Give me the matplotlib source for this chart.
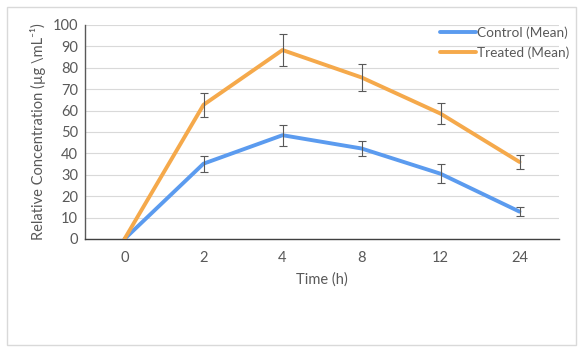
import matplotlib
matplotlib.use("Agg")
import matplotlib.pyplot as plt
from matplotlib.patches import Rectangle

time_labels = ["0", "2", "4", "8", "12", "24"]
control_mean = [0, 35.2, 48.5, 42.3, 30.5, 12.8]
control_err = [0, 3.8, 5.0, 3.5, 4.5, 2.2]
treated_mean = [0, 62.7, 88.3, 75.5, 58.6, 36.0]
treated_err = [0, 5.7, 7.3, 6.5, 5.0, 3.3]

plt.rcParams['font.family'] = ['Lato', 'DejaVu Sans']

fig = plt.figure(figsize=(5.86, 3.53), dpi=100)
fig.patches.append(Rectangle((7/586, 1-345/353), (576-7)/586, (345-7)/353,
                             transform=fig.transFigure, fill=False,
                             edgecolor="#D9D9D9", linewidth=1.0))
ax = fig.add_axes([85/586, 1-239/353, (559-85)/586, (239-25)/353])

x = list(range(len(time_labels)))
blue = "#5B9BEF"
orange = "#F5A94B"
ax.plot(x, control_mean, color=blue, lw=2.8, label="Control (Mean)", zorder=3, solid_capstyle='round')
ax.plot(x, treated_mean, color=orange, lw=2.8, label="Treated (Mean)", zorder=3, solid_capstyle='round')
ax.errorbar(x[1:], control_mean[1:], yerr=control_err[1:], fmt='none', ecolor="#595959",
            elinewidth=0.8, capsize=3, capthick=0.8, zorder=4)
ax.errorbar(x[1:], treated_mean[1:], yerr=treated_err[1:], fmt='none', ecolor="#595959",
            elinewidth=0.8, capsize=3, capthick=0.8, zorder=4)

ax.set_xlim(-0.5, 5.5)
ax.set_ylim(0, 100)
ax.set_yticks(range(0, 101, 10))
ax.set_xticks(x)
ax.set_xticklabels(time_labels)
ax.grid(axis='y', color="#D9D9D9", lw=0.8)
ax.set_axisbelow(True)
for s in ["top", "right"]:
    ax.spines[s].set_visible(False)
ax.spines["left"].set_color("#595959")
ax.spines["bottom"].set_color("#404040")
ax.spines["left"].set_linewidth(1.0)
ax.spines["bottom"].set_linewidth(1.0)
ax.tick_params(axis='both', length=0, labelsize=10.5, labelcolor="#595959")
ax.tick_params(axis='x', pad=9)
ax.tick_params(axis='y', pad=5)
ax.set_xlabel("Time (h)", fontsize=10.5, color="#595959", labelpad=5)
ax.set_ylabel("Relative Concentration (µg \\mL⁻¹)", fontsize=10.5, color="#595959", labelpad=5)

leg = ax.legend(loc="upper left", bbox_to_anchor=(435/586, 1-21/353), bbox_transform=fig.transFigure,
                frameon=False, fontsize=9.8, handlelength=2.6, handletextpad=0.1,
                labelspacing=0.55, borderaxespad=0)
for t in leg.get_texts():
    t.set_color("#595959")

fig.savefig("out.png", dpi=100)
